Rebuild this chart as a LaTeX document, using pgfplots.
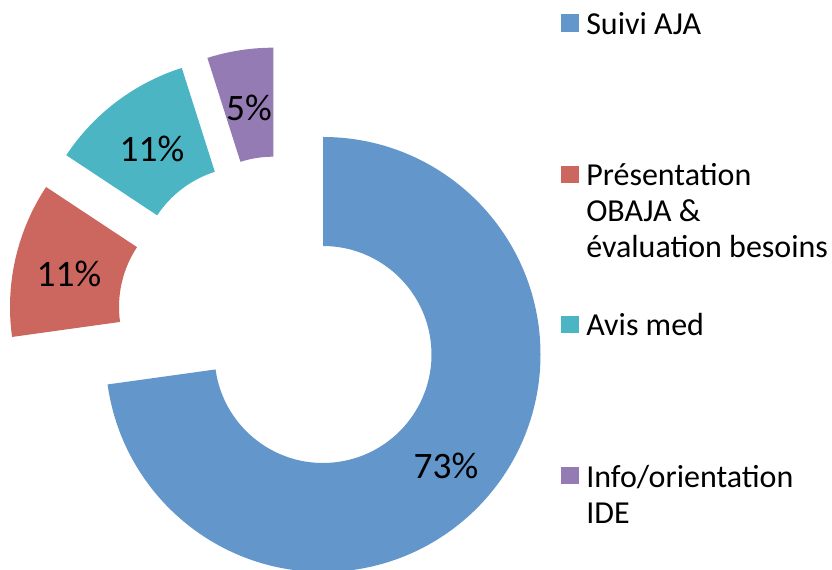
\documentclass[border=0pt]{standalone}
\usepackage{pgfplots}
\pgfplotsset{compat=1.18}
\usepackage{fontspec}
\setmainfont{Carlito}
\definecolor{cblue}{HTML}{6396CA}
\definecolor{cred}{HTML}{CC675F}
\definecolor{cteal}{HTML}{4BB5C4}
\definecolor{cpurple}{HTML}{947BB3}
% values (percent)
\def\vA{72.8}\def\vB{11.5}\def\vC{10.8}\def\vD{4.9}
\pgfmathsetmacro\aA{90}
\pgfmathsetmacro\aB{\aA-3.6*\vA}
\pgfmathsetmacro\aC{\aB-3.6*\vB}
\pgfmathsetmacro\aD{\aC-3.6*\vC}
\pgfmathsetmacro\aE{\aD-3.6*\vD}
\def\Rout{163.125pt}\def\Rin{81.375pt}\def\Rw{81.75pt}
\newcommand{\sector}[5]{%
  \fill[#5] (axis cs:#1,#2) ++(#3:\Rout) arc[start angle=#3, end angle=#4, radius=\Rout]
    -- ++(#4:-\Rw) arc[start angle=#4, end angle=#3, radius=\Rin] -- cycle;}
\begin{document}
\begin{tikzpicture}
\begin{axis}[anchor=origin, at={(0,0)}, x=0.75pt, y=0.75pt,
  xmin=0, xmax=832, ymin=0, ymax=570, hide axis, clip=false]
\addplot[draw=none] coordinates {(0,0) (832,570)};
\sector{323}{215.5}{\aA}{\aB}{cblue}
\sector{227.5}{263}{\aB}{\aC}{cred}
\sector{247.7}{294.8}{\aC}{\aD}{cteal}
\sector{273.3}{304.8}{\aD}{\aE}{cpurple}
\begin{scope}[every node/.style={inner sep=0pt, font=\fontsize{28}{33}\selectfont}]
\node at (axis cs:446,104) {73\%};
\node at (axis cs:69,296) {11\%};
\node at (axis cs:152,421.5) {11\%};
\node at (axis cs:249,462.5) {5\%};
\end{scope}
% legend
\fill[cblue] (axis cs:561,556) rectangle (axis cs:579,538);
\fill[cred] (axis cs:561,404) rectangle (axis cs:579,387);
\fill[cteal] (axis cs:561,254) rectangle (axis cs:579,237);
\fill[cpurple] (axis cs:561,103) rectangle (axis cs:579,86);
\begin{scope}[every node/.style={inner sep=0pt, anchor=base west, font=\fontsize{24}{28}\selectfont}]
\node at (axis cs:586,535) {Suivi AJA};
\node at (axis cs:586,384) {Présentation};
\node at (axis cs:586,348) {OBAJA \&};
\node at (axis cs:586,312) {évaluation besoins};
\node at (axis cs:586,234) {Avis med};
\node at (axis cs:586,82) {Info/orientation};
\node at (axis cs:586,46) {IDE};
\end{scope}
\end{axis}
\pgfresetboundingbox
\path[use as bounding box] (0,0) rectangle (624pt,427.5pt);
\end{tikzpicture}
\end{document}
